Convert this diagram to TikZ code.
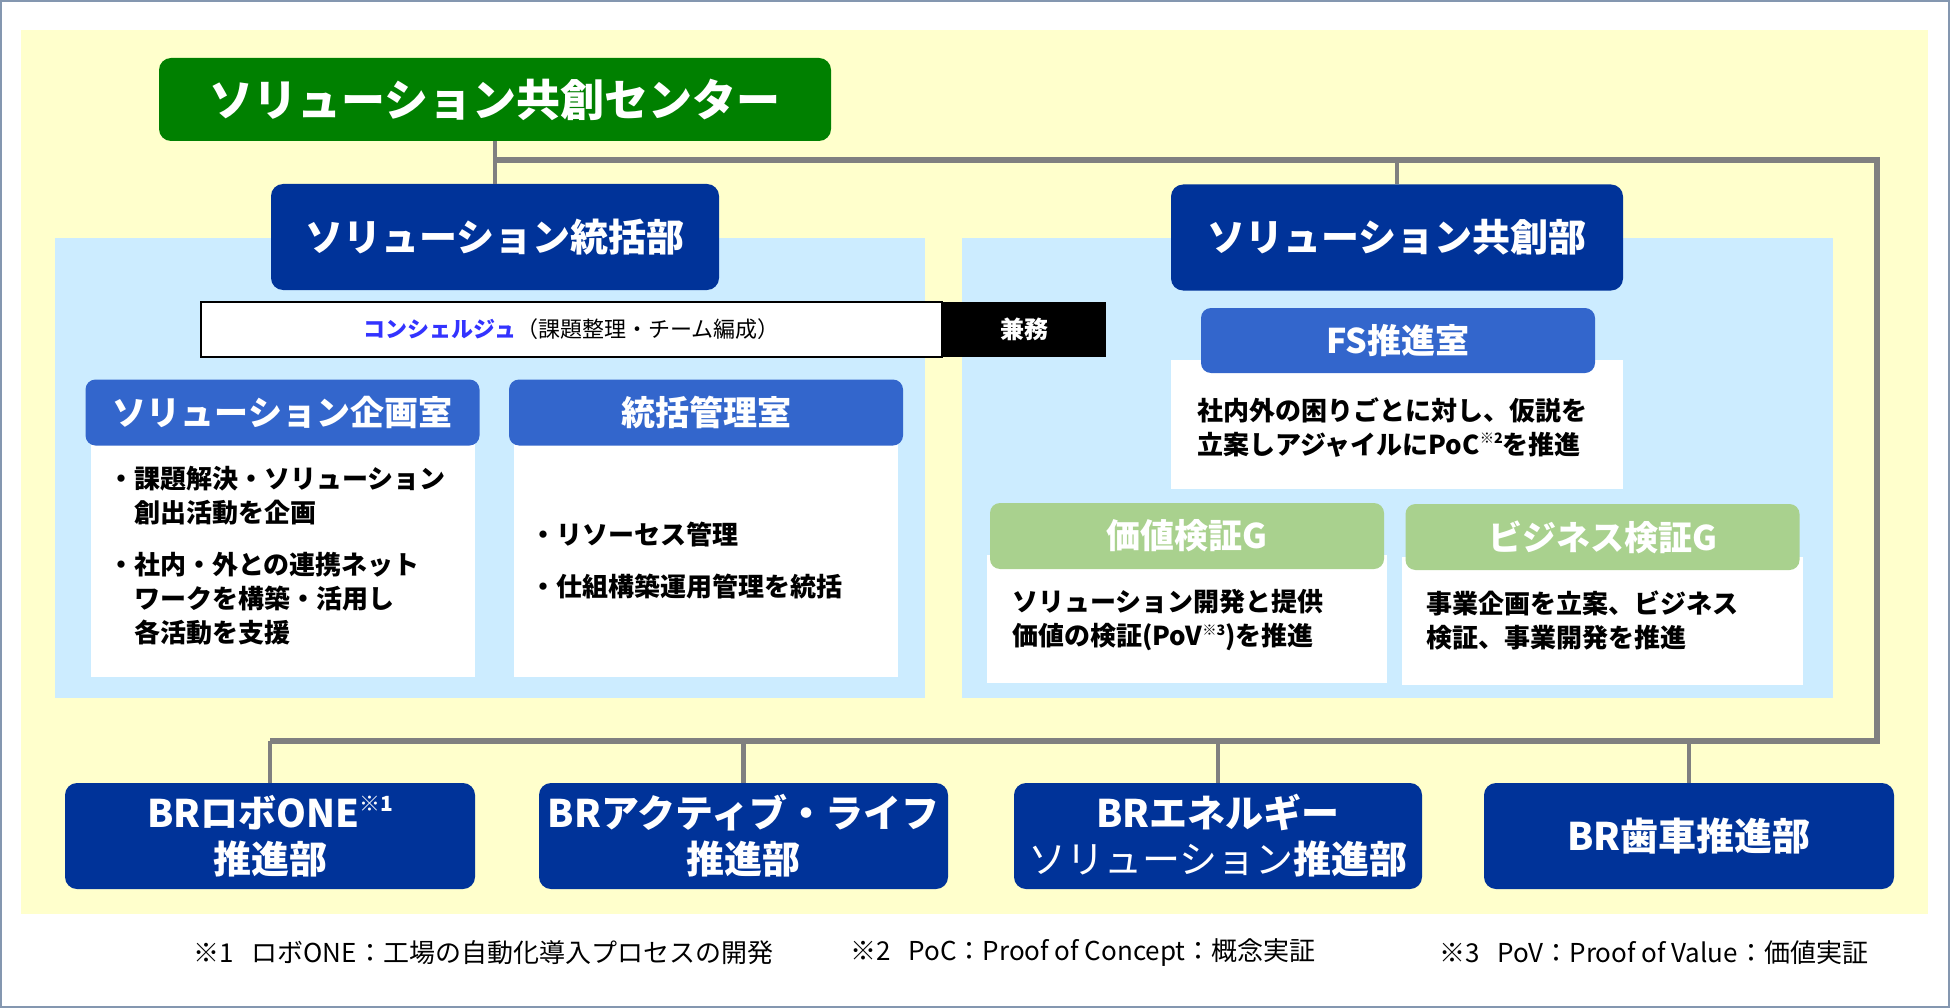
\documentclass[tikz,border=0pt]{standalone}
\usepackage{fontspec}
\usepackage{graphicx}
\setmainfont{Noto Sans CJK JP}

\definecolor{bgyellow}{HTML}{FFFFCC}
\definecolor{panelblue}{HTML}{CCECFF}
\definecolor{topgreen}{HTML}{008000}
\definecolor{deptblue}{HTML}{003399}
\definecolor{roomblue}{HTML}{3366CC}
\definecolor{grpgreen}{HTML}{A9D18E}
\definecolor{linegray}{HTML}{808080}
\definecolor{concblue}{HTML}{3333FF}
\definecolor{framegray}{HTML}{8497B0}

% small raised note mark
\newcommand{\notemark}[1]{\raisebox{0.42em}{\scalebox{0.55}{#1}}}

\begin{document}
\begin{tikzpicture}[x=1pt,y=-1pt,
  every node/.style={inner sep=0pt,outer sep=0pt,text=white},
  dept/.style={fill=deptblue,rounded corners=12pt,minimum height=106pt,
    font=\fontsize{38}{46}\selectfont\bfseries},
  room/.style={fill=roomblue,rounded corners=10pt,minimum width=394pt,minimum height=66pt,
    font=\fontsize{34}{40}\selectfont\bfseries},
  grp/.style={room,fill=grpgreen},
  body/.style={fill=white,minimum width=384pt},
  memo/.style={text=black,align=left,anchor=west,font=\fontsize{26}{34}\selectfont\bfseries},
  brdept/.style={dept,minimum width=410pt,align=center,font=\fontsize{38}{46}\selectfont\bfseries},
  trunk/.style={draw=linegray,line width=6pt},
  branch/.style={draw=linegray,line width=4.5pt},
  fn/.style={text=black,anchor=west,font=\fontsize{26}{30}\selectfont}]
\useasboundingbox (0,0) rectangle (1950,1008);
\draw[framegray,line width=2pt] (1,1) rectangle (1949,1007);
\fill[bgyellow] (21,30) rectangle (1928,914);
\fill[panelblue] (55,238) rectangle (925,698);
\fill[panelblue] (962,238) rectangle (1833,698);

% top
\node[fill=topgreen,rounded corners=12pt,minimum width=672pt,minimum height=83pt,
  font=\fontsize{44}{50}\selectfont\bfseries] (center) at (495,99.5) {ソリューション共創センター};

% departments
\node[dept,minimum width=448pt] (togatsu) at (495,237) {ソリューション統括部};
\node[dept,minimum width=452pt] (kyoso) at (1397,237.5) {ソリューション共創部};

% concierge
\node[draw=black,line width=2pt,fill=white,minimum width=741pt,minimum height=55pt,
  text=black,font=\fontsize{22}{26}\selectfont] (conc) at (571.5,329.5)
  {{\color{concblue}\bfseries コンシェルジュ}（課題整理・チーム編成）};
\node[fill=black,minimum width=164pt,minimum height=55pt,
  font=\fontsize{24}{28}\selectfont\bfseries] (kenmu) at (1024,329.5) {兼務};

% left rooms
\node[body,minimum height=237pt] (kikakubody) at (283,558.5) {};
\node[room] (kikaku) at (282.5,412.5) {ソリューション企画室};
\node[memo] (kikakutxt) at (108,556) {・課題解決・ソリューション\\
  \hspace*{1em}創出活動を企画\\[18pt]
  ・社内・外との連携ネット\\
  \hspace*{1em}ワークを構築・活用し\\
  \hspace*{1em}各活動を支援};
\node[body,minimum height=237pt] (kanribody) at (706,558.5) {};
\node[room] (kanri) at (706,412.5) {統括管理室};
\node[memo] (kanritxt) at (530,561) {・リソーセス管理\\[18pt]
  ・仕組構築運用管理を統括};

% right rooms
\node[body,minimum width=452pt,minimum height=129pt] (fsbody) at (1397,424.5) {};
\node[room,minimum height=65pt] (fs) at (1398,340.5) {FS推進室};
\node[memo,text width=420pt] (fstxt) at (1197,427.5) {社内外の困りごとに対し、仮説を\\
  立案しアジャイルにPoC\notemark{※2}を推進};
\node[body,minimum width=400pt,minimum height=128pt] (kachibody) at (1187,619) {};
\node[grp] (kachi) at (1187,536) {価値検証G};
\node[memo] (kachitxt) at (1012,620.5) {ソリューション開発と提供\\
  価値の検証(PoV\notemark{※3})を推進};
\node[body,minimum width=401pt,minimum height=128pt] (bizbody) at (1602.5,621) {};
\node[grp] (biz) at (1602.5,537) {ビジネス検証G};
\node[memo] (biztxt) at (1426,620.5) {事業企画を立案、ビジネス\\
  検証、事業開発を推進};

% business divisions
\node[brdept] (b1) at (270,836) {BRロボONE\notemark{※1}\\推進部};
\node[brdept,minimum width=409pt] (b2) at (743.5,836) {BRアクティブ・ライフ\\推進部};
\node[brdept,minimum width=408pt] (b3) at (1218,836) {BRエネルギー\\{\mdseries ソリューション}推進部};
\node[brdept] (b4) at (1689,836) {BR歯車推進部};

% connectors
\coordinate (top) at (1877,160);
\coordinate (bot) at (1877,741);
\draw[branch] (center.south) -- (togatsu.north);
\draw[trunk] (center.south |- top) -- (top) -- (bot) -- (b1.north |- bot);
\draw[branch] (kyoso.north) -- (kyoso.north |- top);
\foreach \b in {b1,b2,b3,b4}
  \draw[branch] (\b.north) -- (\b.north |- bot);

% notes
\node[fn] (fn1) at (193,953) {※1\hspace{0.7em}ロボONE：工場の自動化導入プロセスの開発};
\node[fn] (fn2) at (850,953) {※2\hspace{0.7em}PoC：Proof of Concept：概念実証};
\node[fn] (fn3) at (1439,953) {※3\hspace{0.7em}PoV：Proof of Value：価値実証};
\end{tikzpicture}
\end{document}
